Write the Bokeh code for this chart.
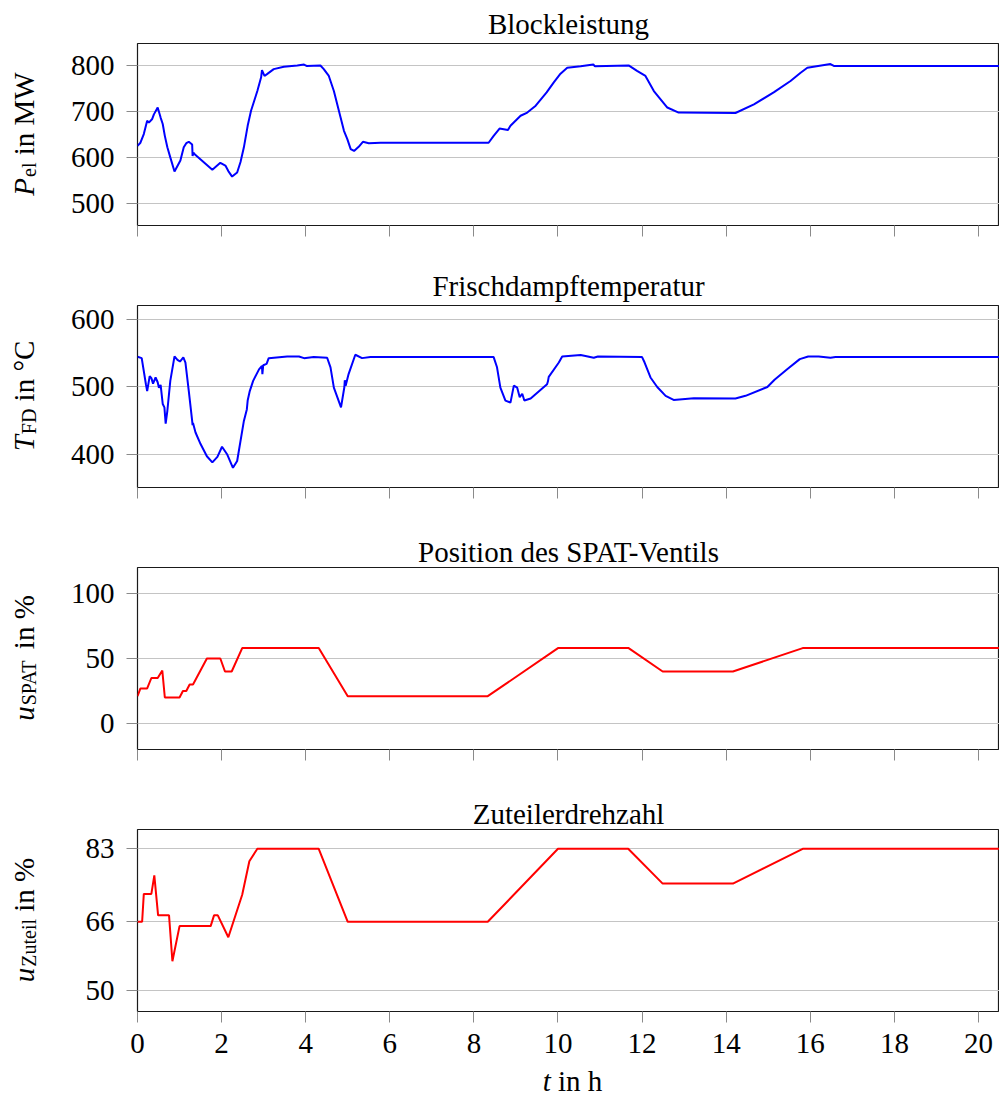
import math
from bokeh.plotting import figure
from bokeh.layouts import column, row
from bokeh.models import Range1d, FixedTicker, Label, CustomJSTickFormatter, Title
from bokeh.embed import file_html
from bokeh.resources import INLINE

# ---------------- data ----------------
t_P = [0, 0.07, 0.15, 0.23, 0.27, 0.35, 0.39, 0.48, 0.55, 0.60, 0.65, 0.71, 0.78, 0.88,
       1.02, 1.10, 1.16, 1.22, 1.30, 1.31, 1.33, 1.38, 1.78, 1.97, 2.09, 2.16, 2.25, 2.37,
       2.45, 2.53, 2.62, 2.70, 2.85, 2.94, 2.96, 3.02, 3.08, 3.24, 3.48, 3.80, 3.96, 4.02,
       4.35, 4.43, 4.55, 4.67, 4.83, 4.91, 4.99, 5.07, 5.15, 5.26, 5.36, 5.50, 5.78, 8.35,
       8.47, 8.61, 8.81, 8.87, 9.11, 9.27, 9.47, 9.73, 9.90, 10.06, 10.22, 10.54, 10.84,
       10.88, 11.68, 11.88, 12.08, 12.28, 12.60, 12.87, 14.22, 14.66, 15.13, 15.53, 15.77,
       15.93, 16.48, 16.56, 20.5]
P_el = [625, 632, 651, 680, 676, 684, 694, 709, 687, 673, 647, 622, 600, 569,
        593, 622, 631, 634, 628, 603, 610, 605, 573, 588, 582, 570, 558, 567,
        590, 622, 669, 702, 745, 775, 791, 778, 782, 793, 798, 801, 803, 800,
        801, 793, 778, 745, 687, 658, 640, 618, 614, 623, 634, 631, 632, 632,
        647, 663, 660, 669, 691, 698, 713, 742, 764, 783, 796, 799, 803,
        799, 801, 789, 778, 745, 709, 698, 697, 716, 742, 767, 785,
        796, 804, 800, 800]

t_T = [0, 0.10, 0.20, 0.23, 0.29, 0.33, 0.37, 0.43, 0.48, 0.51, 0.55, 0.60, 0.64, 0.67,
       0.71, 0.78, 0.88, 0.95, 1.01, 1.09, 1.14, 1.22, 1.30, 1.31, 1.32, 1.38, 1.50, 1.65,
       1.78, 1.90, 2.01, 2.13, 2.27, 2.37, 2.53, 2.60, 2.62, 2.67, 2.75, 2.89, 2.96, 2.97,
       2.99, 3.07, 3.12, 3.56, 3.84, 3.96, 4.19, 4.51, 4.59, 4.67, 4.84, 4.92, 4.93, 4.95,
       5.02, 5.18, 5.34, 5.54, 8.47, 8.55, 8.63, 8.75, 8.87, 8.95, 9.03, 9.09, 9.15, 9.20,
       9.35, 9.74, 9.76, 9.78, 10.02, 10.10, 10.54, 10.85, 10.95, 12.00, 12.06, 12.20,
       12.36, 12.56, 12.75, 13.23, 14.22, 14.46, 14.98, 15.15, 15.45, 15.75, 15.95, 16.20,
       16.48, 16.60, 20.5]
T_FD = [544.5, 542.5, 504, 494, 516, 513, 505, 514, 507, 499, 503, 475, 470, 446,
        465, 509, 545, 540, 537.5, 543.5, 536, 494, 450, 444, 447, 433, 416, 398,
        389, 397, 412, 401, 381, 391, 450, 467, 480, 494, 509, 526, 531, 519,
        532, 534, 542.5, 545, 545, 542.5, 544, 543, 529, 499, 470, 500, 510, 502,
        519, 547.5, 542.5, 544, 544, 529, 499, 480, 477, 502, 499, 485, 490, 480,
        483, 504, 508, 515, 536, 545, 547, 543, 545, 544, 536, 514,
        500, 487, 481, 483.5, 483, 487, 500, 510.6, 526, 541, 545, 545,
        543, 544, 544]

t_SPAT = [0, 0.07, 0.23, 0.33, 0.48, 0.59, 0.65, 1.00, 1.08, 1.16, 1.24, 1.32, 1.65,
          1.97, 2.08, 2.24, 2.49, 4.31, 5.00, 8.33, 10.0, 11.68, 12.49, 14.16, 15.82, 20.5]
u_SPAT = [21, 27, 27, 35, 35, 40.7, 20, 20, 25, 25, 30, 30, 50,
          50, 40, 40, 58, 58, 21, 21, 58, 58, 40, 40, 58, 58]

t_Zut = [0, 0.11, 0.15, 0.33, 0.40, 0.49, 0.75, 0.83, 1.00, 1.74, 1.82, 1.91, 2.16,
         2.49, 2.66, 2.85, 4.31, 5.00, 8.33, 10.0, 11.67, 12.49, 14.16, 15.82, 20.5]
u_Zut = [66, 66, 72.5, 72.5, 76.8, 67.5, 67.5, 56.8, 65, 65, 67.5, 67.5, 62.4,
         72.3, 80.1, 83, 83, 66, 66, 83, 83, 74.9, 74.9, 83, 83]

x_ticks = [0, 2, 4, 6, 8, 10, 12, 14, 16, 18, 20]
titles = ["Blockleistung", "Frischdampftemperatur", "Position des SPAT-Ventils", "Zuteilerdrehzahl"]
y_labels = [("P", "el", "in MW"), ("T", "FD", "in °C"), ("u", "SPAT", "in %"), ("u", "Zuteil", "in %")]
y_ticks = [[500, 600, 700, 800], [400, 500, 600], [0, 50, 100], [50, 66, 83]]
x_label = ("t", "in h")

# ---------------- styling / layout ----------------
FONT = "Liberation Serif"
FS = 29
SUB = 20
TOTAL_W, TOTAL_H = 999, 1097
LW = 60                 # width of the strip holding the rotated y labels
FRAME_LEFT = 137        # frame left edge on the page
FRAME_H = 182
TOP = 43
BOT = 37
BOT_LAST = 55
GRID = "#c4c4c4"
TICK = "#8a8a8a"
BASE_SHIFT = 12         # observed distance between a label anchor and its drawn baseline

# approximate Times-like advance widths (em) for label layout
CW = {' ': .25, 'i': .278, 'n': .5, 'M': .889, 'W': .944, '°': .4, 'C': .667, '%': .833,
      'e': .444, 'l': .278, 'F': .556, 'D': .722, 'S': .556, 'P': .556, 'A': .722, 'T': .611,
      'Z': .611, 'u': .5, 't': .278, 'h': .5}
CWI = {'P': .611, 'T': .556, 'u': .5, 't': .278}
SPACE = 0.25 * FS


def width(s, size, italic=False):
    tab = CWI if italic else CW
    return sum(tab.get(c, .5) for c in s) * size


def text_fig(w, h, xr, left_border=0):
    """A bare figure without axes (1 data unit = 1 px) used to hold labels."""
    f = figure(width=w, height=h, x_range=Range1d(*xr), y_range=Range1d(0, h),
               x_axis_location=None, y_axis_location=None, output_backend="svg",
               toolbar_location=None, min_border=0, min_border_left=left_border,
               title=None)
    f.outline_line_color = None
    f.background_fill_color = "white"
    f.border_fill_color = "white"
    f.grid.visible = False
    return f


def lbl(x, y, text, size=FS, style="normal", angle=0.0, align="left"):
    return Label(x=x, y=y, text=text, angle=angle, text_align=align,
                 text_baseline="alphabetic", text_font=FONT, text_font_size=f"{size}px",
                 text_font_style=style, text_color="black")


def panel(t, y, color, yr, yticks, title, standoff, bottom=False):
    bot = BOT_LAST if bottom else BOT
    p = figure(width=TOTAL_W - LW, height=TOP + FRAME_H + bot, x_range=Range1d(0, 20.5),
               y_range=Range1d(*yr), output_backend="svg", toolbar_location=None,
               min_border_left=FRAME_LEFT - LW, min_border_right=0, min_border_top=TOP,
               min_border_bottom=bot)
    p.background_fill_color = "white"
    p.border_fill_color = "white"
    p.outline_line_color = "#1a1a1a"
    p.outline_line_width = 1.2
    p.line(t, y, line_color=color, line_width=2)

    for ax, ticks, stand in ((p.xaxis, x_ticks, 11), (p.yaxis, yticks, 12)):
        ax.ticker = FixedTicker(ticks=ticks)
        ax.axis_line_color = None
        ax.major_tick_out = 11
        ax.major_tick_in = 0
        ax.minor_tick_out = 0
        ax.minor_tick_in = 0
        ax.major_tick_line_color = TICK
        ax.major_tick_line_width = 1
        ax.major_label_text_font = FONT
        ax.major_label_text_font_size = f"{FS}px"
        ax.major_label_text_color = "black"
        ax.major_label_standoff = stand
    if not bottom:
        p.xaxis.formatter = CustomJSTickFormatter(code="return ''")

    p.xgrid.visible = False
    p.ygrid.ticker = FixedTicker(ticks=yticks)
    p.ygrid.grid_line_color = GRID
    p.ygrid.grid_line_width = 1

    p.add_layout(Title(text=title, align="center", text_font=FONT,
                       text_font_size=f"{FS}px", text_font_style="normal",
                       text_color="black", standoff=standoff), "above")
    return p


p1 = panel(t_P, P_el, "#0000ff", (451, 849), y_ticks[0], titles[0], 7)
p2 = panel(t_T, T_FD, "#0000ff", (352, 620), y_ticks[1], titles[1], 7)
p3 = panel(t_SPAT, u_SPAT, "#ff0000", (-20, 120), y_ticks[2], titles[2], 0)
p4 = panel(t_Zut, u_Zut, "#ff0000", (45.1, 87.5), y_ticks[3], titles[3], 0, bottom=True)
panels = [p1, p2, p3, p4]

# rotated y labels (with subscripts) in the left strip
left = text_fig(LW, TOTAL_H, (0, LW))
xb = 35 - BASE_SHIFT
top_px = 0
for k, (main, sub, rest) in enumerate(y_labels):
    h = panels[k].height
    center_from_top = top_px + TOP + FRAME_H / 2
    top_px += h
    cy = TOTAL_H - center_from_top
    w1 = width(main, FS, True)
    w2 = width(sub, SUB)
    w3 = SPACE + width(rest, FS)
    y0 = cy - (w1 + w2 + w3) / 2
    left.add_layout(lbl(xb, y0, main, FS, "italic", math.pi / 2))
    left.add_layout(lbl(xb + 5, y0 + w1 + 1, sub, SUB, "normal", math.pi / 2))
    left.add_layout(lbl(xb, y0 + w1 + w2 + 1 + SPACE, rest, FS, "normal", math.pi / 2))

# x axis label below the last panel (x data = page pixels)
xl_h = TOTAL_H - top_px
xlab = text_fig(TOTAL_W - LW, xl_h, (FRAME_LEFT, TOTAL_W), left_border=FRAME_LEFT - LW)
a, b = x_label
wa = width(a, FS, True)
wb = SPACE + width(b, FS)
x0 = 572 - (wa + wb) / 2
ybase = 5 + BASE_SHIFT
xlab.add_layout(lbl(x0, ybase, a, FS, "italic"))
xlab.add_layout(lbl(x0 + wa + SPACE, ybase, b, FS, "normal"))

layout = row(left, column(p1, p2, p3, p4, xlab, spacing=0), spacing=0)
open("out.html", "w").write(file_html(layout, INLINE))
